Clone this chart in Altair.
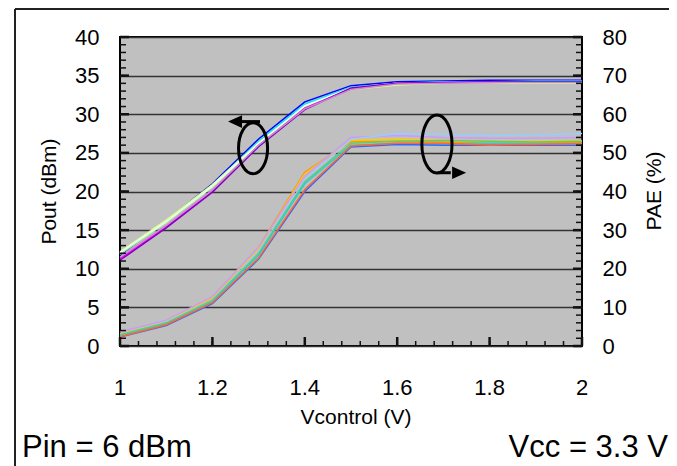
import altair as alt
import pandas as pd

FONT = "Liberation Sans, Arial, sans-serif"

# ---- data ----
vcontrol = [1.0, 1.1, 1.2, 1.3, 1.4, 1.5, 1.6, 1.7, 1.8, 1.9, 2.0]

pout_colors = ["#0000ff", "#00e5ff", "#e6ff80", "#99ff99", "#f0fff0",
               "#ff00ff", "#8000c0", "#cc88cc"]
pout_series = [
    [11.8, 16.2, 21.0, 26.8, 31.6, 33.7, 34.2, 34.3, 34.4, 34.4, 34.4],
    [12.0, 16.1, 20.8, 26.5, 31.3, 33.5, 34.0, 34.2, 34.2, 34.3, 34.3],
    [12.2, 16.3, 20.9, 26.3, 31.0, 33.2, 33.8, 34.0, 34.0, 34.0, 34.0],
    [11.9, 16.0, 20.6, 26.1, 30.9, 33.3, 33.9, 34.0, 34.1, 34.1, 34.1],
    [12.1, 16.1, 20.7, 26.2, 31.1, 33.4, 34.0, 34.1, 34.1, 34.2, 34.2],
    [11.3, 15.4, 20.0, 25.9, 30.8, 33.3, 34.0, 34.1, 34.1, 34.2, 34.2],
    [11.1, 15.3, 19.9, 25.8, 30.6, 33.4, 34.0, 34.1, 34.2, 34.2, 34.2],
    [11.5, 15.6, 20.2, 26.0, 30.7, 33.2, 33.9, 34.0, 34.1, 34.1, 34.1],
]

pae_colors = ["#ff9900", "#ffcc00", "#cc99ff", "#99ccff", "#66cc66",
              "#33cccc", "#3366ff", "#ff6633"]
pae_series = [
    [2.8, 6.0, 12.3, 25.5, 45.0, 53.0, 53.0, 52.8, 52.5, 52.6, 52.8],
    [3.2, 6.3, 12.5, 25.2, 44.5, 53.3, 53.5, 53.2, 53.0, 53.0, 53.2],
    [3.6, 6.7, 12.8, 25.6, 44.0, 54.0, 54.5, 54.0, 53.8, 53.8, 54.0],
    [3.0, 6.2, 12.0, 24.5, 43.0, 53.5, 55.0, 54.8, 54.5, 54.6, 55.0],
    [2.9, 6.0, 11.8, 24.0, 42.5, 52.5, 53.0, 53.2, 53.0, 52.8, 53.0],
    [2.6, 5.7, 11.5, 23.5, 42.0, 52.0, 52.5, 52.3, 52.5, 52.3, 52.5],
    [2.3, 5.3, 11.0, 22.5, 40.0, 51.5, 52.2, 52.0, 52.0, 52.0, 52.0],
    [2.4, 5.5, 11.2, 22.8, 40.5, 51.8, 52.5, 52.5, 52.0, 52.2, 52.4],
]

x_major = [1.0, 1.2, 1.4, 1.6, 1.8, 2.0]
x_labels = ["1", "1.2", "1.4", "1.6", "1.8", "2"]
x_minor = [round(1.0 + 0.04 * i, 2) for i in range(26)]
pout_major = [0, 5, 10, 15, 20, 25, 30, 35, 40]
pout_minor = list(range(41))
pae_major = [0, 10, 20, 30, 40, 50, 60, 70, 80]
pae_minor = list(range(0, 81, 2))

# annotation anchors (data coordinates, Pout scale)
ellipse_x = [1.288, 1.686]
ellipse_y = [25.6, 26.15]
arrow_x = [1.303, 1.688]
arrow_x2 = [1.258, 1.716]
arrow_y = [29.05, 22.43]
head_x = [1.249, 1.734]
head_y = [29.05, 22.43]

W, H = 462, 309

rows = []
for i, s in enumerate(pout_series):
    for x, v in zip(vcontrol, s):
        rows.append({"x": x, "v": v, "s": f"p{i}", "c": pout_colors[i]})
pout_df = pd.DataFrame(rows)
rows = []
for i, s in enumerate(pae_series):
    for x, v in zip(vcontrol, s):
        rows.append({"x": x, "v": v, "s": f"e{i}", "c": pae_colors[i]})
pae_df = pd.DataFrame(rows)

xs = alt.Scale(domain=[1, 2], nice=False, zero=False)
ys = alt.Scale(domain=[0, 40], nice=False)
es = alt.Scale(domain=[0, 80], nice=False)

xaxis = alt.Axis(values=x_major, grid=True, gridColor="#333333", gridWidth=1.5,
                 gridOpacity=1, ticks=False, tickSize=0, domain=False,
                 labels=False, title=None)

pout_lines = alt.Chart(pout_df).mark_line(strokeWidth=1.5).encode(
    x=alt.X("x:Q", scale=xs, axis=xaxis),
    y=alt.Y("v:Q", scale=ys, axis=alt.Axis(
        values=pout_major, grid=True, gridColor="#333333", gridWidth=1.5,
        gridOpacity=1, ticks=False, tickSize=0, domain=False, orient="left",
        labelFontSize=22, labelFont=FONT, labelColor="black",
        labelPadding=21, title=None)),
    detail="s:N",
    color=alt.Color("c:N", scale=None),
)

pae_lines = alt.Chart(pae_df).mark_line(strokeWidth=1.5).encode(
    x=alt.X("x:Q", scale=xs, axis=None),
    y=alt.Y("v:Q", scale=es, axis=alt.Axis(
        values=pae_major, grid=False, ticks=False, tickSize=0, domain=False,
        orient="right", labelFontSize=22, labelFont=FONT, labelColor="black",
        labelPadding=20, title=None)),
    detail="s:N",
    color=alt.Color("c:N", scale=None),
)

xlab = alt.Chart(pd.DataFrame({"x": x_major, "t": x_labels})).mark_text(
    font=FONT, fontSize=22, color="black", baseline="alphabetic").encode(
    x=alt.X("x:Q", scale=xs, axis=None), text="t:N", y=alt.value(H + 49))

def xticks(vals, length, width):
    return alt.Chart(pd.DataFrame({"x": vals})).mark_rule(
        color="#111111", strokeWidth=width).encode(
        x=alt.X("x:Q", scale=xs, axis=None),
        y=alt.value(H), y2=alt.value(H - length))

def lyticks(vals, length, width):
    return alt.Chart(pd.DataFrame({"y": vals})).mark_rule(
        color="#111111", strokeWidth=width).encode(
        y=alt.Y("y:Q", scale=ys, axis=None),
        x=alt.value(0), x2=alt.value(length))

def ryticks(vals, length, width):
    return alt.Chart(pd.DataFrame({"y": vals})).mark_rule(
        color="#111111", strokeWidth=width).encode(
        y=alt.Y("y:Q", scale=es, axis=None),
        x=alt.value(W), x2=alt.value(W - length))

ticks = [xticks(x_minor, 5, 1.5), xticks(x_major, 9, 2.5),
         lyticks(pout_minor, 6, 1.5), lyticks(pout_major, 9, 2.5),
         ryticks(pae_minor, 6, 1.5), ryticks(pae_major, 9, 2.5)]

ell_df = pd.DataFrame({"x": ellipse_x, "y": ellipse_y,
                       "shape": ["M0,-1 A0.57,1 0 1,1 0,1 A0.57,1 0 1,1 0,-1 Z",
                                 "M0,-1 A0.52,1 0 1,1 0,1 A0.52,1 0 1,1 0,-1 Z"],
                       "size": [2601, 3364]})
ellipses = alt.Chart(ell_df).mark_point(filled=False, color="black",
                                        strokeWidth=3, opacity=1).encode(
    x=alt.X("x:Q", scale=xs, axis=None),
    y=alt.Y("y:Q", scale=ys, axis=None),
    shape=alt.Shape("shape:N", scale=None),
    size=alt.Size("size:Q", scale=None),
)

arr_df = pd.DataFrame({"x": arrow_x, "x2": arrow_x2, "y": arrow_y})
arrows = alt.Chart(arr_df).mark_rule(color="black", strokeWidth=3).encode(
    x=alt.X("x:Q", scale=xs, axis=None), x2="x2:Q",
    y=alt.Y("y:Q", scale=ys, axis=None))

head_df = pd.DataFrame({"x": head_x, "y": head_y,
                        "shape": ["M-1,0 L1,-0.9 L1,0.9 Z", "M1,0 L-1,-0.9 L-1,0.9 Z"]})
heads = alt.Chart(head_df).mark_point(filled=True, color="black", size=196,
                                      opacity=1).encode(
    x=alt.X("x:Q", scale=xs, axis=None),
    y=alt.Y("y:Q", scale=ys, axis=None),
    shape=alt.Shape("shape:N", scale=None))

def txt(t, x, y, size, align="center", baseline="alphabetic", angle=0):
    return alt.Chart(pd.DataFrame({"t": [t]})).mark_text(
        font=FONT, fontSize=size, color="black", align=align,
        baseline=baseline, angle=angle).encode(
        text="t:N", x=alt.value(x), y=alt.value(y))

texts = [
    txt("Pin = 6 dBm", -98, 420, 31, align="left"),
    txt("Vcc = 3.3 V", 548, 420, 31, align="right"),
    txt("Vcontrol (V)", 236, 387, 21),
    txt("Pout (dBm)", -70, 154.5, 21, baseline="middle", angle=270),
    txt("PAE (%)", 534.5, 154, 21, baseline="middle", angle=270),
]

frame = [
    alt.Chart(pd.DataFrame({"a": [0]})).mark_rule(color="#222222", strokeWidth=2).encode(
        x=alt.value(-105), y=alt.value(-28), y2=alt.value(440)),
    alt.Chart(pd.DataFrame({"a": [0]})).mark_rule(color="#222222", strokeWidth=2).encode(
        x=alt.value(-105), x2=alt.value(560), y=alt.value(-28)),
]

chart = alt.layer(
    pout_lines, pae_lines, xlab, *ticks, ellipses, arrows, heads, *texts, *frame
).resolve_scale(y="independent").properties(
    width=W, height=H,
    autosize=alt.AutoSizeParams(type="none"),
    padding={"left": 112, "top": 29, "right": 87, "bottom": 120},
).configure_view(fill="#c0c0c0", stroke="black", strokeWidth=2)

chart.save("out.html", embed_options={"renderer": "svg", "actions": False})
